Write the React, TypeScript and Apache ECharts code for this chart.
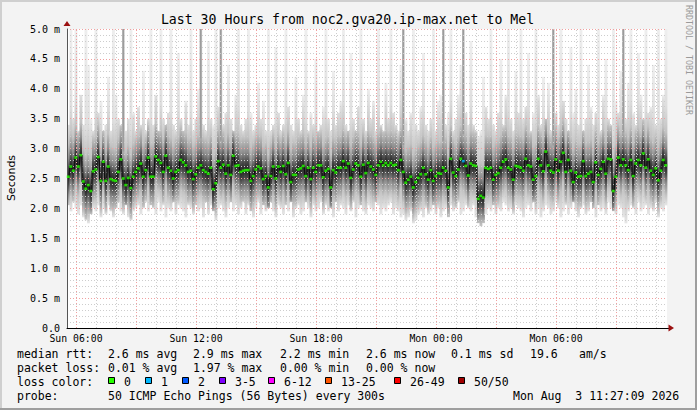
import React, { useEffect, useRef } from "react";
import * as echarts from "echarts";

// time axis: hours since Sun 00:00, one sample every 7.5 minutes
const START_HOUR = 5.55;
const STEP_HOURS = 0.125;
const END_HOUR = 35.55;

// median rtt (ms)
const medians = [
  2.53, 2.70, 2.63, 2.85, 2.70, 2.89, 2.45, 2.33, 2.39, 2.29,
  2.62, 2.65, 2.86, 2.46, 2.78, 2.46, 2.70, 2.49, 2.47, 2.46,
  2.61, 2.82, 2.50, 2.39, 2.51, 2.34, 2.53, 2.61, 2.67, 2.75,
  2.53, 2.64, 2.85, 2.53, 2.53, 2.87, 2.81, 2.76, 2.61, 2.88,
  2.68, 2.63, 2.50, 2.61, 2.64, 2.81, 2.77, 2.72, 2.61, 2.63,
  2.49, 2.57, 2.68, 2.72, 2.64, 2.61, 2.58, 2.68, 2.32, 2.42, 2.79,
  2.68, 2.73, 2.58, 2.72, 2.56, 2.88, 2.71, 2.72, 2.61, 2.63,
  2.64, 2.64, 2.46, 2.54, 2.65, 2.70, 2.67, 2.49, 2.54, 2.35,
  2.54, 2.70, 2.50, 2.70, 2.61, 2.71, 2.57, 2.76, 2.44, 2.56,
  2.56, 2.65, 2.67, 2.71, 2.54, 2.68, 2.49, 2.68, 2.61, 2.72,
  2.72, 2.52, 2.63, 2.66, 2.35, 2.64, 2.60, 2.68, 2.68, 2.79,
  2.68, 2.75, 2.51, 2.65, 2.75, 2.72, 2.53, 2.73, 2.59,
  2.76,
  2.70, 2.65, 2.56, 2.72, 2.78, 2.72, 2.76, 2.72, 2.76, 2.72,
  2.73, 2.64, 2.81, 2.61, 2.43, 2.48, 2.53, 2.35, 2.44, 2.51,
  2.57, 2.68, 2.57, 2.48, 2.64, 2.46, 2.54, 2.59, 2.58, 2.68,
  2.63, 2.35, 2.83, 2.60, 2.54, 2.65, 2.83, 2.79, 2.71, 2.55,
  2.75, 2.72, 2.71, 2.16, 2.21, 2.18, 2.68, 2.66, 2.68, 2.48,
  2.56, 2.59, 2.68, 2.78, 2.82, 2.68, 2.65, 2.48, 2.71, 2.70,
  2.68, 2.63, 2.83, 2.72, 2.70, 2.48, 2.54, 2.83, 2.72, 2.62,
  2.95, 2.72, 2.63, 2.60, 2.82, 2.63, 2.78, 2.93, 2.61, 2.81,
  2.63, 2.44, 2.60, 2.53, 2.54, 2.79, 2.54, 2.58, 2.61, 2.44,
  2.77, 2.56, 2.66, 2.78, 2.58, 2.83, 2.82, 2.29, 2.53, 2.85,
  2.72, 2.82, 2.72, 2.64, 2.81, 2.54, 2.75, 2.81, 2.72, 2.92,
  2.68, 2.82, 2.63, 2.56, 2.67, 2.47, 2.63, 2.81, 2.72,
];

// lowest ping per sample (ms)
const smokeLow = [
  2.05, 1.95, 2.10, 2.00, 1.90, 2.05, 1.85, 1.80, 1.75, 1.90,
  2.00, 1.95, 2.05, 1.85, 2.00, 1.90, 2.05, 1.95, 1.85, 2.00,
  2.10, 1.95, 1.90, 2.05, 1.85, 1.80, 1.95, 2.00, 2.05, 1.90,
  2.00, 2.10, 1.95, 2.05, 2.00, 1.90, 2.10, 1.95, 2.05, 1.85,
  2.00, 1.95, 2.10, 1.90, 2.05, 2.00, 1.95, 1.85, 2.05, 2.00,
  1.90, 2.05, 1.95, 2.00, 1.85, 2.10, 1.90, 2.05, 1.95, 1.80, 2.00,
  2.05, 1.95, 1.85, 2.00, 2.10, 1.95, 2.05, 1.90, 2.00, 2.10,
  1.90, 2.05, 1.95, 1.85, 2.00, 2.10, 1.90, 2.05, 1.95, 2.00,
  2.10, 1.95, 1.85, 2.05, 2.00, 1.90, 2.05, 1.95, 2.10, 1.85,
  2.00, 2.05, 1.90, 1.95, 2.10, 2.00, 1.85, 2.05, 1.95, 2.00,
  2.10, 1.90, 2.05, 1.95, 2.00, 1.85, 2.10, 1.95, 2.05, 2.00,
  1.90, 2.05, 1.95, 2.10, 1.85, 2.00, 2.05, 1.95, 1.90, 2.05,
  2.00, 1.95, 2.10, 2.05, 1.90, 2.00, 1.95, 2.05, 2.10, 1.90,
  2.00, 1.95, 1.85, 1.90, 1.80, 1.85, 1.95, 1.75, 1.80, 1.90,
  1.95, 1.85, 2.00, 1.90, 1.95, 2.05, 1.90, 2.00, 1.85, 1.95,
  2.00, 1.85, 2.05, 1.95, 2.00, 2.10, 1.90, 1.95, 2.05, 2.00,
  1.95, 2.05, 1.85, 1.75, 1.70, 1.75, 1.90, 2.00, 1.95, 2.05,
  1.90, 2.00, 1.95, 2.10, 2.05, 1.95, 2.00, 1.90, 2.05, 2.00,
  1.95, 1.85, 2.00, 2.05, 1.95, 2.10, 1.90, 2.00, 1.85, 1.95,
  2.05, 2.00, 1.90, 1.95, 2.10, 2.00, 1.85, 1.95, 2.05, 1.90,
  2.00, 2.10, 1.95, 1.85, 2.00, 2.05, 1.90, 1.95, 2.10, 2.00,
  1.85, 2.05, 1.95, 2.00, 1.90, 2.10, 2.00, 1.95, 1.90, 2.05,
  2.00, 1.85, 1.75, 1.95, 2.05, 2.00, 1.90, 2.10, 1.95, 2.00,
  2.05, 1.90, 2.00, 1.95, 2.10, 1.85, 2.00, 1.95, 2.05,
];

// highest ping per sample (ms)
const smokeHigh = [
  3.4, 5.2, 3.5, 5.2, 3.3, 3.9, 3.4, 5.2, 4.4, 3.5,
  3.3, 5.2, 3.6, 3.8, 3.3, 3.4, 4.2, 3.3, 5.2, 3.9,
  3.5, 3.4, 5.2, 3.3, 3.5, 5.2, 3.6, 3.3, 3.7, 3.4,
  4.3, 3.3, 3.5, 5.2, 3.4, 3.9, 3.3, 5.2, 3.5, 3.4,
  3.6, 5.2, 3.4, 3.3, 4.6, 3.5, 3.3, 3.8, 3.4, 5.2,
  3.3, 3.5, 4.0, 5.2, 3.4, 3.3, 4.8, 3.5, 3.4, 5.2, 3.7,
  5.2, 3.4, 3.6, 4.4, 3.5, 3.3, 3.9, 5.2, 3.4, 3.3,
  3.5, 5.2, 3.6, 3.3, 3.4, 4.1, 3.5, 3.8, 3.3, 5.2,
  3.3, 3.4, 4.7, 3.6, 3.3, 3.4, 5.2, 3.7, 3.4, 3.3,
  4.2, 3.5, 3.3, 3.9, 5.2, 3.3, 3.6, 3.4, 4.5, 3.3,
  3.4, 3.7, 5.2, 3.5, 3.3, 4.3, 3.4, 3.6, 3.8, 5.2,
  3.4, 3.3, 4.6, 3.5, 3.3, 3.7, 5.2, 3.5, 3.3, 4.0,
  3.5, 3.8, 3.3, 5.2, 3.4, 3.3, 4.1, 3.5, 5.2, 3.6,
  3.4, 3.3, 4.4, 5.2, 3.5, 3.3, 3.6, 5.2, 3.4, 3.3,
  3.7, 4.6, 3.4, 3.3, 3.5, 5.2, 3.3, 3.8, 3.9, 5.2,
  3.4, 3.6, 5.2, 3.3, 3.5, 3.9, 4.4, 5.2, 3.6, 3.4,
  4.8, 3.4, 3.3, 3.2, 3.3, 4.2, 3.7, 3.5, 5.2, 3.4,
  3.3, 3.6, 4.5, 3.4, 3.9, 5.2, 3.5, 3.3, 4.3, 3.6,
  5.2, 3.5, 3.7, 4.6, 3.3, 3.6, 5.2, 3.9, 3.4, 4.2,
  3.5, 4.1, 3.3, 5.2, 3.6, 3.4, 5.2, 3.8, 3.5, 3.3,
  4.7, 3.6, 4.0, 3.4, 5.2, 3.3, 3.5, 4.4, 3.7, 3.4,
  3.6, 5.2, 3.3, 3.9, 4.5, 3.5, 3.4, 5.2, 3.8, 3.6,
  4.3, 5.2, 3.5, 4.1, 5.2, 3.6, 3.4, 4.6, 3.9, 3.5,
  5.2, 3.6, 3.7, 4.4, 3.4, 5.2, 3.5, 3.9, 5.2,
];

// samples where several pings were far above the rest: [sample index, top ms]
const darkSpikes = [
  [22, 5.2], [53, 5.2], [61, 5.2], [134, 5.2], [150, 5.2], [158, 5.2], [194, 5.2], [222, 5.2],
];
// samples with lost pings: [sample index, lost count]
const lostPings = [[158, 1]];

const xLabelHours = [6, 12, 18, 24, 30];
const gridHours = [6, 7, 8, 9, 10, 11, 12, 13, 14, 15, 16, 17, 18, 19, 20, 21, 22, 23, 24, 25, 26, 27, 28, 29, 30, 31, 32, 33, 34, 35];

const titleText = "Last 30 Hours from noc2.gva20.ip-max.net to Mel";
const rttStats = ["2.6 ms avg", "2.9 ms max", "2.2 ms min", "2.6 ms now", "0.1 ms sd", "19.6", "am/s"];
const rttStatX = [108, 193, 280, 366, 451, 530, 579];
const lossStats = ["0.01 % avg", "1.97 % max", "0.00 % min", "0.00 % now"];
const lossLegend = ["0", "1", "2", "3-5", "6-12", "13-25", "26-49", "50/50"];
const lossColors = ["#26ff00", "#00b8ff", "#0059ff", "#7e00ff", "#ff00ff", "#ff5500", "#ff0000", "#a10000"];
const lossBoxX = [108, 145, 182, 219, 268, 325, 394, 458];
const probeText = "50 ICMP Echo Pings (56 Bytes) every 300s";
const stampText = "Mon Aug  3 11:27:09 2026";

const MONO = "'DejaVu Sans Mono', monospace";

function hourLabel(h: number): string {
  const day = h < 24 ? "Sun" : "Mon";
  const hh = Math.round(h % 24);
  return day + " " + (hh < 10 ? "0" : "") + hh + ":00";
}

export default function App() {
  const ref = useRef<HTMLDivElement>(null);

  useEffect(() => {
    if (!ref.current) return;
    const chart = echarts.init(ref.current, null, { renderer: "svg" });
    const N = Math.min(medians.length, smokeLow.length, smokeHigh.length);
    const tOf = (i: number) => START_HOUR + (i + 0.5) * STEP_HOURS;

    const smokeData = [];
    const medLine = [];
    const dots = [];
    for (let i = 0; i < N; i++) {
      smokeData.push([tOf(i), smokeLow[i], smokeHigh[i], medians[i]]);
      medLine.push([tOf(i), medians[i]]);
      const lost = lostPings.find((p) => p[0] === i);
      const c = lost ? lossColors[Math.min(lost[1], 7)] : lossColors[0];
      dots.push({ value: [tOf(i), medians[i]], itemStyle: { color: c } });
    }
    const spikeData = darkSpikes.map(([i, top]) => [tOf(i), medians[i], top]);

    const txt = (text: string, x: number, y: number, extra: any = {}) => ({
      type: "text",
      x,
      y,
      z: 100,
      style: {
        text,
        fill: "#000",
        font: "11.5px " + MONO,
        textVerticalAlign: "middle",
        verticalAlign: "middle",
        ...extra,
      },
    });

    const graphics: any[] = [
      { type: "rect", shape: { x: 0, y: 0, width: 697, height: 2 }, style: { fill: "#cfcfcf" }, z: 100 },
      { type: "rect", shape: { x: 0, y: 0, width: 2, height: 410 }, style: { fill: "#cfcfcf" }, z: 100 },
      { type: "rect", shape: { x: 695, y: 0, width: 2, height: 410 }, style: { fill: "#9e9e9e" }, z: 100 },
      { type: "rect", shape: { x: 0, y: 408, width: 697, height: 2 }, style: { fill: "#9e9e9e" }, z: 100 },
      txt(titleText, 347.5, 19, { font: "13.2px " + MONO, align: "center", textAlign: "center" }),
      {
        type: "text",
        x: 11,
        y: 178,
        rotation: Math.PI / 2,
        z: 100,
        style: { text: "Seconds", fill: "#000", font: "11px 'DejaVu Sans', sans-serif", align: "center", textAlign: "center", verticalAlign: "middle", textVerticalAlign: "middle" },
      },
      {
        type: "text",
        x: 689,
        y: 5,
        rotation: -Math.PI / 2,
        z: 100,
        style: { text: "RRDTOOL / TOBI OETIKER", fill: "#9a9a9a", font: "8.3px " + MONO, align: "left", textAlign: "left", verticalAlign: "middle", textVerticalAlign: "middle" },
      },
      { type: "polygon", shape: { points: [[63.5, 26], [70.5, 26], [67, 21]] }, style: { fill: "#9b1010" }, z: 100 },
      { type: "line", shape: { x1: 667, y1: 328.5, x2: 669, y2: 328.5 }, style: { stroke: "#000", lineWidth: 1 }, z: 100 },
      { type: "polygon", shape: { points: [[668.5, 324.5], [668.5, 331.5], [674, 328]] }, style: { fill: "#9b1010" }, z: 100 },
      txt("median rtt:", 17, 354),
      txt("packet loss:", 17, 368),
      txt("loss color:", 17, 382),
      txt("probe:", 17, 396),
      txt(probeText, 108, 396),
      txt(stampText, 513, 396),
    ];
    rttStats.forEach((s, k) => graphics.push(txt(s, rttStatX[k], 354)));
    lossStats.forEach((s, k) => graphics.push(txt(s, rttStatX[k], 368)));
    lossLegend.forEach((s, k) => {
      graphics.push({
        type: "rect",
        shape: { x: lossBoxX[k] + 0.5, y: 377.5, width: 6, height: 6 },
        style: { fill: lossColors[k], stroke: "#000", lineWidth: 1 },
        z: 100,
      });
      graphics.push(txt(s, lossBoxX[k] + 16, 382));
    });

    const option: any = {
      animation: false,
      backgroundColor: "#f3f3f3",
      grid: { left: 67, right: 30, top: 29, bottom: 82, show: true, backgroundColor: "#ffffff", borderWidth: 0 },
      xAxis: {
        type: "value",
        min: START_HOUR,
        max: END_HOUR,
        z: 6,
        axisLine: { show: true, onZero: false, lineStyle: { color: "#000", width: 1 } },
        axisTick: { show: false, customValues: xLabelHours },
        axisLabel: {
          customValues: xLabelHours,
          formatter: (v: number) => hourLabel(v),
          fontFamily: MONO,
          fontSize: 9.8,
          color: "#000",
          margin: 5,
        },
        splitLine: { show: false },
      },
      yAxis: {
        type: "value",
        min: 0,
        max: 5,
        interval: 0.5,
        z: 3,
        axisLine: { show: true, lineStyle: { color: "#555", width: 1 } },
        axisTick: { show: false },
        axisLabel: {
          formatter: (v: number) => (v === 0 ? "0.0" : v.toFixed(1) + " m"),
          fontFamily: MONO,
          fontSize: 10,
          color: "#000",
          margin: 7,
        },
        splitLine: { show: true, lineStyle: { color: "#f0a0a0", width: 1, type: [1, 2] } },
        minorTick: { show: false, splitNumber: 5 },
        minorSplitLine: { show: true, lineStyle: { color: "#cdcdcd", width: 1, type: [1, 2] } },
      },
      series: [
        {
          type: "custom",
          z: 1,
          silent: true,
          data: smokeData,
          renderItem: (params: any, api: any) => {
            const t = api.value(0);
            const lo = api.value(1);
            const top = Math.min(api.value(2), 5);
            const med = api.value(3);
            const p0 = api.coord([t, top]);
            const p1 = api.coord([t, lo]);
            const w = api.size([STEP_HOURS, 0])[0];
            const span = top - lo;
            const off = (v: number) => Math.max(0, Math.min(1, (top - v) / span));
            const stops = [
              { offset: 0, color: "#eeeeee" },
              { offset: off(med + 1.0), color: "#dedede" },
              { offset: off(med + 0.55), color: "#c2c2c2" },
              { offset: off(med + 0.3), color: "#8c8c8c" },
              { offset: off(med + 0.12), color: "#444444" },
              { offset: off(med), color: "#222222" },
              { offset: off(med - 0.12), color: "#444444" },
              { offset: off(med - 0.3), color: "#8e8e8e" },
              { offset: off(med - 0.5), color: "#c4c4c4" },
              { offset: 1, color: "#e6e6e6" },
            ];
            return {
              type: "rect",
              shape: { x: p0[0] - w / 2, y: p0[1], width: w + 0.4, height: p1[1] - p0[1] },
              style: { fill: new echarts.graphic.LinearGradient(0, 0, 0, 1, stops) },
            };
          },
        },
        {
          type: "custom",
          z: 2,
          silent: true,
          data: spikeData,
          renderItem: (params: any, api: any) => {
            const t = api.value(0);
            const med = api.value(1);
            const top = Math.min(api.value(2), 5);
            const p0 = api.coord([t, top]);
            const p1 = api.coord([t, med + 0.45]);
            const w = api.size([STEP_HOURS, 0])[0];
            return {
              type: "rect",
              shape: { x: p0[0] - w * 0.4, y: p0[1], width: w * 0.8, height: p1[1] - p0[1] },
              style: { fill: "#9c9c9c" },
            };
          },
        },
        {
          type: "line",
          z: 3,
          data: [],
          silent: true,
          markLine: {
            silent: true,
            symbol: ["none", "none"],
            label: { show: false },
            animation: false,
            data: gridHours.map((h) => ({
              xAxis: h,
              lineStyle: { color: h % 3 === 0 ? "#f0a0a0" : "#cdcdcd", width: 1, type: [1, 2] },
            })),
          },
        },
        {
          type: "line",
          z: 4,
          data: medLine,
          step: "middle",
          showSymbol: false,
          silent: true,
          lineStyle: { color: "#111", width: 1.3 },
        },
        {
          type: "scatter",
          z: 5,
          data: dots,
          symbol: "rect",
          symbolSize: [3, 2.6],
          silent: true,
        },
      ],
      graphic: graphics,
    };

    chart.setOption(option);
    return () => chart.dispose();
  }, []);

  return (
    <div
      ref={ref}
      style={{ position: "fixed", left: 0, top: 0, width: 697, height: 410 }}
    />
  );
}
